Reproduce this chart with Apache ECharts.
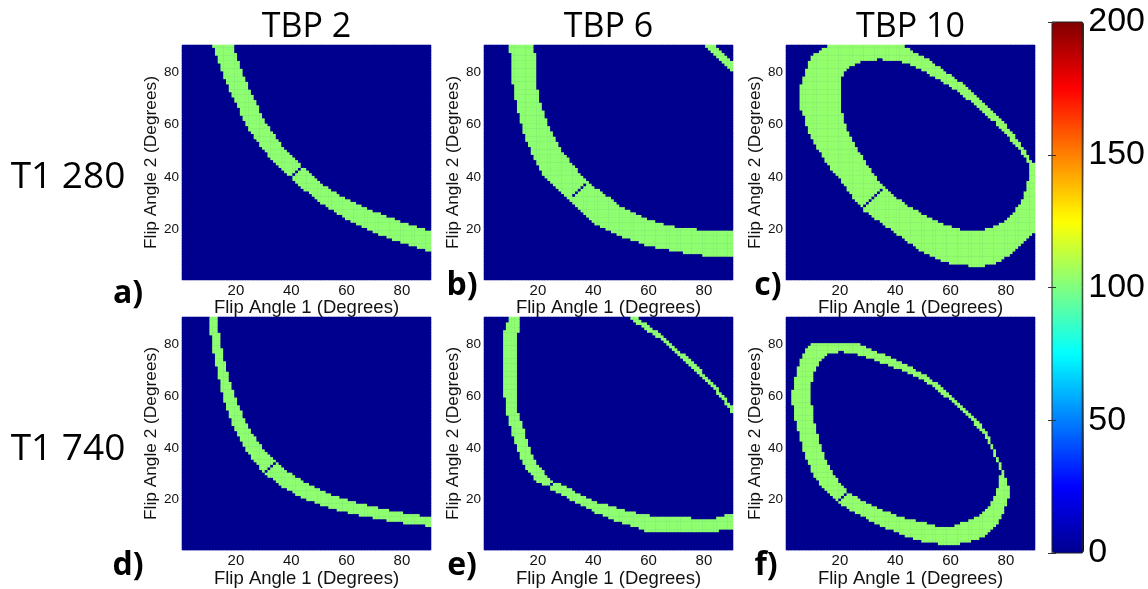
<!DOCTYPE html>
<html><head><meta charset="utf-8">
<script src="https://cdn.jsdelivr.net/npm/echarts@6/dist/echarts.min.js"></script>
<style>html,body{margin:0;padding:0;background:#fff}#chart{width:1148px;height:589px}</style>
</head><body><div id="chart"></div>
<script>
// ---------- categories / labels ----------
const FLIP_ANGLES = [1,2,3,4,5,6,7,8,9,10,11,12,13,14,15,16,17,18,19,20,21,22,23,24,25,26,27,28,29,30,
  31,32,33,34,35,36,37,38,39,40,41,42,43,44,45,46,47,48,49,50,51,52,53,54,55,56,57,58,59,60,
  61,62,63,64,65,66,67,68,69,70,71,72,73,74,75,76,77,78,79,80,81,82,83,84,85,86,87,88,89,90];
const TICK_LABELS = [20,40,60,80];
const COLUMN_TITLES = ['TBP 2','TBP 6','TBP 10'];
const ROW_TITLES = ['T1 280','T1 740'];
const PANEL_LETTERS = ['a)','b)','c)','d)','e)','f)'];
const BAND_LEVELS = [103,103,104,103,103,104];
const MARKER_LEVEL = 2;
const BACKGROUND_LEVEL = 0;
const COLOR_MIN = 0, COLOR_MAX = 200, COLOR_STEP = 50;

// place a run of per-column values starting at flip angle 1 = x0
function fromX(x0, vals){ const a = new Array(90).fill(null); vals.forEach((v,i)=>{a[x0-1+i]=v;}); return a; }

// ---------- panel a (TBP 2, T1 280): band lower / upper edge per column ----------
const A_LO = fromX(12,[90,87,84,81,78,76,73,71,69,67, 64,62,60,58,57,55,54,52,51,50, 48,47,46,45,44,43,42,41,40,39,
  38,37,36,35,35,34,33,32,31,30, 30,29,28,28,27,26,26,25,24,24, 23,23,22,22,21,21,20,20,19,19,
  18,18,18,17,17,16,16,16,15,15, 15,14,14,14,13,13,13,12,12]);
const A_HI = fromX(12,[90,90,90,90,90,90,90,90,87,84, 81,78,76,73,71,69,67,64,62,60, 59,57,56,54,53,51,50,49,48,47,
  46,45,44,43,42,41,40,39,38,37, 36,36,35,34,34,33,32,32,31,31, 30,30,29,29,28,28,27,27,26,26,
  26,25,25,24,24,24,23,23,22,22, 22,21,21,21,20,20,20,19,19]);
const A_MARK = [[40,40],[41,41],[42,42],[43,43],[44,44]];

// ---------- panel b (TBP 6, T1 280) ----------
const B_LO = fromX(10,[88,76,70,65,61,57,54,52,49,47, 45,43,41,40,39,38,37,36,35,34, 33,32,31,30,29,28,27,26,25,24,
  23,22,22,21,21,20,20,19,19,18, 18,17,17,17,16,16,16,15,15,14, 14,14,14,13,13,13,13,13,12,12,
  12,12,12,11,11,11,11,11,11,11, 10,10,10,10,10,10,10,10,10,10,10]);
const B_HI = fromX(10,[90,90,90,90,90,90,90,90,90,87, 73,68,65,62,59,57,55,53,51,49, 48,47,45,44,43,41,40,39,38,37,
  36,35,35,34,33,32,32,31,30,29, 28,28,27,27,26,26,25,25,24,24, 23,23,23,22,22,22,21,21,21,21,
  20,20,20,20,20,20,20,20,19,19, 19,19,19,19,19,19,19,19,19,19,19]);
const B2_LO = fromX(81,[90,89,88,87,86,85,84,83,82,81]);
const B2_HI = fromX(81,[90,90,90,90,89,88,87,86,85,84]);
const B_MARK = [[33,33],[34,34],[35,35],[36,36],[37,37]];

// ---------- panel c (TBP 10, T1 280): ring = outer edges with a hole ----------
const C_OUT_LO = fromX(6,[66,64,60,57,55,53,51,50,48,46, 45,43,42,41,40,38,37,35,34,32, 31,30,28,27,27,26,25,24,24,23,
  22,21,21,20,19,18,18,17,16,15, 15,14,13,12,12,11,11,10,10,9, 9,8,8,8,7,7,7,7,7,7,
  7,6,6,6,6,6,6,7,7,7, 7,8,8,9,10,10,11,12,13,14, 15,16,17,18,19]);
const C_OUT_HI = fromX(6,[75,78,81,84,86,87,87,88,89,89, 90,90,90,90,90,90,90,90,90,90, 90,90,90,90,90,90,90,90,90,90,
  90,90,90,90,90,90,90,90,89,89, 88,87,87,86,86,85,85,84,83,82, 82,81,80,79,79,78,77,76,76,75,
  74,73,72,71,70,69,68,67,66,65, 64,63,62,61,60,58,57,56,54,53, 51,50,48,46,45]);
const C_HOLE_LO = fromX(21,[64,60,57,55,53,51,49,48,46,44, 43,41,40,38,37,36,35,34,33,32, 31,31,30,29,28,28,27,27,26,25,
  25,24,24,23,23,22,22,21,21,21, 20,20,20,19,19,19,19,19,19,19, 19,19,20,20,20,21,21,22,22,23,
  24,25,26,28,29,31,34,38]);
const C_HOLE_HI = fromX(21,[79,81,82,83,83,84,84,85,85,85, 85,85,85,86,86,85,85,85,85,85, 85,85,84,84,84,83,83,82,82,81,
  81,80,79,79,78,78,77,76,76,75, 74,74,73,72,71,70,70,69,68,67, 66,65,64,63,62,62,60,59,58,57,
  56,54,53,52,51,49,48,46]);
const C_MARK = [[28,28],[29,29],[30,30],[31,31],[32,32],[33,33],[34,34],[35,35]];

// ---------- panel d (TBP 2, T1 740) ----------
const D_LO = fromX(11,[84,77,72,67,62,58,55,52,49,47, 45,43,41,39,38,36,35,34,32,31, 30,29,29,28,27,26,25,25,24,24,
  23,22,22,21,21,20,20,20,19,19, 18,18,18,17,17,17,16,16,16,16, 15,15,15,15,14,14,14,14,14,13,
  13,13,13,13,12,12,12,12,12,12, 11,11,11,11,11,11,11,11,10,10]);
const D_HI = fromX(11,[90,90,90,84,78,73,69,65,62,59, 56,54,51,49,47,45,44,42,41,39, 38,37,36,35,34,33,32,31,30,30,
  29,28,28,27,26,26,25,25,24,24, 23,23,22,22,21,21,21,20,20,20, 19,19,19,18,18,18,18,17,17,17,
  17,16,16,16,16,15,15,15,15,15, 14,14,14,14,14,14,13,13,13,13]);
const D_MARK = [[31,31],[32,32],[33,33],[34,34]];

// ---------- panel e (TBP 6, T1 740) ----------
const E_LO = fromX(8,[60,53,49,45,42,39,36,34,32,31, 30,28,27,27,26,26,25,24,24,23, 23,22,22,21,20,20,19,19,18,18,
  17,17,16,15,15,15,14,14,13,13, 12,12,12,11,11,11,10,10,10,9, 9,8,8,8,8,8,8,8,8,8,
  8,8,8,8,8,8,8,8,8,8, 8,8,8,8,8,8,8,8, 9,9,9,9,9]);
const E_HI = fromX(8,[85,88,90,90,90,53,50,47,43,40, 37,35,33,32,31,29,28,27,27,26, 26,25,25,24,24,23,22,22,21,21,
  20,20,19,19,18,18,18,18,17,17, 17,16,16,16,15,15,15,15,14,14, 14,14,14,13,13,13,13,13,13,13,
  13,13,13,13,13,13,13,13,12,12, 12,12,12,12,12,12,12,13, 13,13,14,14,14]);
const E2_LO = fromX(54,[90,89,88,88,87,86,85,85,84,83, 83,82,81,80,79,78,77,76,75,74, 73,72,71,70,69,68,67,66,65,64,
  63,61,60,59,57,56,54]);
const E2_HI = fromX(54,[90,90,90,89,88,88,87,86,85,85, 84,83,82,81,80,79,78,77,76,76, 75,74,73,72,71,70,68,67,66,65,
  64,63,61,60,59,57,56]);
const E3_LO = fromX(13,[85]);
const E3_HI = fromX(13,[90]);
const E_MARK = [[24,25],[25,26],[26,27]];

// ---------- panel f (TBP 10, T1 740): ring ----------
const F_OUT_LO = fromX(3,[57,51,47,43,39,36,34,31,29,28, 26,25,24,23,22,21,20,19,18,18, 17,16,16,15,15,14,14,13,12,12,
  11,11,10,10,9,9,9,8,8,7, 7,6,6,6,5,5,5,4,4,4, 4,4,4,3,3,3,3,3,3,3,
  3,4,4,4,4,5,5,5,6,6, 7,8,9,10,11,13,15,18,21]);
const F_OUT_HI = fromX(3,[62,67,71,74,76,78,79,80,80,80, 80,80,80,80,80,80,80,80,80,80, 80,80,80,80,80,79,79,78,78,77,
  77,76,76,76,75,75,74,74,73,73, 72,72,71,71,70,69,69,68,68,67, 66,65,65,64,63,62,61,60,59,58,
  57,56,55,54,53,52,51,50,49,47, 46,44,41,39,36,34,31,28,25]);
const F_HOLE_LO = fromX(10,[56,49,45,41,38,35,33,31,29,28, 26,25,24,23,22,21,21,20,19,19, 18,18,17,17,16,16,15,15,15,14,
  14,13,13,13,12,12,12,12,11,11, 11,11,10,10,10,9,9,9,9,9, 9,9,10,10,11,11,11,12,12,13,
  13,14,15,16,17,19,21,24,29]);
const F_HOLE_HI = fromX(10,[66,70,72,74,75,76,77,77,77,77, 78,78,77,77,77,77,77,76,76,76, 75,75,75,74,74,73,73,73,72,72,
  71,71,71,70,70,69,69,68,68,67, 67,66,65,65,64,63,62,61,60,60, 59,58,57,56,55,54,53,52,51,49,
  48,47,46,44,42,40,37,35,32]);
const F_MARK = [[20,20],[21,21],[22,22],[23,23]];

// ---------- build heatmap cells through the category axes ----------
function bandTest(runs){
  return (xi, y) => runs.some(([lo, hi]) => lo[xi] != null && y >= lo[xi] && y <= hi[xi]);
}
function ringTest(oLo, oHi, hLo, hHi){
  return (xi, y) => {
    if (oLo[xi] == null || y < oLo[xi] || y > oHi[xi]) return false;
    if (hLo[xi] != null && y > hLo[xi] && y < hHi[xi]) return false;
    return true;
  };
}
function cells(test, marks, level){
  const data = [];
  for (let xi = 0; xi < FLIP_ANGLES.length; xi++)
    for (let yi = 0; yi < FLIP_ANGLES.length; yi++)
      data.push([xi, yi, test(xi, FLIP_ANGLES[yi]) ? level : BACKGROUND_LEVEL]);
  marks.forEach(([x, y]) => { data[(x-1)*FLIP_ANGLES.length + (y-1)][2] = MARKER_LEVEL; });
  return data;
}
const PANEL_DATA = [
  cells(bandTest([[A_LO,A_HI]]), A_MARK, BAND_LEVELS[0]),
  cells(bandTest([[B_LO,B_HI],[B2_LO,B2_HI]]), B_MARK, BAND_LEVELS[1]),
  cells(ringTest(C_OUT_LO,C_OUT_HI,C_HOLE_LO,C_HOLE_HI), C_MARK, BAND_LEVELS[2]),
  cells(bandTest([[D_LO,D_HI]]), D_MARK, BAND_LEVELS[3]),
  cells(bandTest([[E_LO,E_HI],[E2_LO,E2_HI],[E3_LO,E3_HI]]), E_MARK, BAND_LEVELS[4]),
  cells(ringTest(F_OUT_LO,F_OUT_HI,F_HOLE_LO,F_HOLE_HI), F_MARK, BAND_LEVELS[5])
];

// ---------- layout ----------
const COL_LEFT = [182, 484, 786];
const ROW_TOP = [45, 317];
const PW = 249, PH = 235;
const JET = ['#00008F','#0000FF','#0080FF','#00FFFF','#80FF80','#FFFF00','#FF8000','#FF0000','#800000'];
const SANS = 'Liberation Sans';

const grids = [], xAxes = [], yAxes = [], series = [];
for (let i = 0; i < 6; i++){
  const c = i % 3, r = Math.floor(i / 3);
  grids.push({left: COL_LEFT[c], top: ROW_TOP[r], width: PW, height: PH, show:true,
    backgroundColor: JET[0], borderWidth:0});
  const tickShow = (idx, val) => TICK_LABELS.includes(Number(val));
  xAxes.push({type:'category', gridIndex:i, data:FLIP_ANGLES,
    axisLine:{show:false}, axisTick:{show:false}, splitLine:{show:false},
    axisLabel:{interval:tickShow, fontSize:15, color:'#111', margin:3, fontFamily:SANS},
    name:'Flip Angle 1 (Degrees)', nameLocation:'middle', nameGap:16,
    nameTextStyle:{fontSize:18.5, color:'#111', fontFamily:SANS}});
  yAxes.push({type:'category', gridIndex:i, data:FLIP_ANGLES,
    axisLine:{show:false}, axisTick:{show:false}, splitLine:{show:false},
    axisLabel:{interval:tickShow, fontSize:13.5, color:'#111', margin:3, fontFamily:SANS},
    name:'Flip Angle 2 (Degrees)', nameLocation:'middle', nameGap:22,
    nameTextStyle:{fontSize:17.3, color:'#111', fontFamily:SANS}});
  series.push({type:'heatmap', xAxisIndex:i, yAxisIndex:i, data:PANEL_DATA[i],
    progressive:0, silent:true, emphasis:{disabled:true}, itemStyle:{borderWidth:0}});
}
// colour bar frame + value axis
const CB = {left:1052, top:22, width:32, height:531};
grids.push({left:CB.left, top:CB.top, width:CB.width, height:CB.height, show:true,
  borderColor:'#222', borderWidth:1, backgroundColor:'rgba(0,0,0,0)', z:10});
xAxes.push({type:'value', gridIndex:6, show:false});
yAxes.push({type:'value', gridIndex:6, min:COLOR_MIN, max:COLOR_MAX, interval:COLOR_STEP, position:'right', z:10,
  axisLine:{show:false}, splitLine:{show:false},
  axisTick:{show:true, inside:true, length:4, lineStyle:{color:'#333'}},
  axisLabel:{fontSize:34, color:'#000', margin:6, fontFamily:SANS}});
yAxes.push({type:'value', gridIndex:6, min:COLOR_MIN, max:COLOR_MAX, interval:COLOR_STEP, position:'left', z:10,
  axisLine:{show:false}, splitLine:{show:false}, axisLabel:{show:false},
  axisTick:{show:true, inside:true, length:4, lineStyle:{color:'#333'}}});

const graphics = [];
COLUMN_TITLES.forEach((t, c) => graphics.push({type:'text', x: COL_LEFT[c] + PW/2, y: 27,
  style:{text:t, font:'34px "Open Sans"', fill:'#000', align:'center', verticalAlign:'middle'}}));
ROW_TITLES.forEach((t, r) => graphics.push({type:'text', x: 68, y: ROW_TOP[r] + 132,
  style:{text:t, font:'37px "Open Sans"', fill:'#000', align:'center', verticalAlign:'middle'}}));
const LETTER_POS = [[128,294],[462,286],[768,286],[128,566],[462,566],[766,566]];
PANEL_LETTERS.forEach((t, i) => graphics.push({type:'text', x: LETTER_POS[i][0], y: LETTER_POS[i][1],
  style:{text:t, font:'bold 32px "Open Sans"', fill:'#000', align:'center', verticalAlign:'middle'}}));

const chart = echarts.init(document.getElementById('chart'), null, {renderer:'canvas', width:1148, height:589});
chart.setOption({
  animation:false,
  backgroundColor:'#ffffff',
  grid: grids, xAxis: xAxes, yAxis: yAxes, series: series,
  visualMap: {type:'continuous', min:COLOR_MIN, max:COLOR_MAX, seriesIndex:[0,1,2,3,4,5],
    left:CB.left, top:CB.top, itemWidth:CB.width, itemHeight:CB.height, padding:0,
    calculable:false, hoverLink:false, inRange:{color:JET}},
  graphic: graphics
});
</script></body></html>
